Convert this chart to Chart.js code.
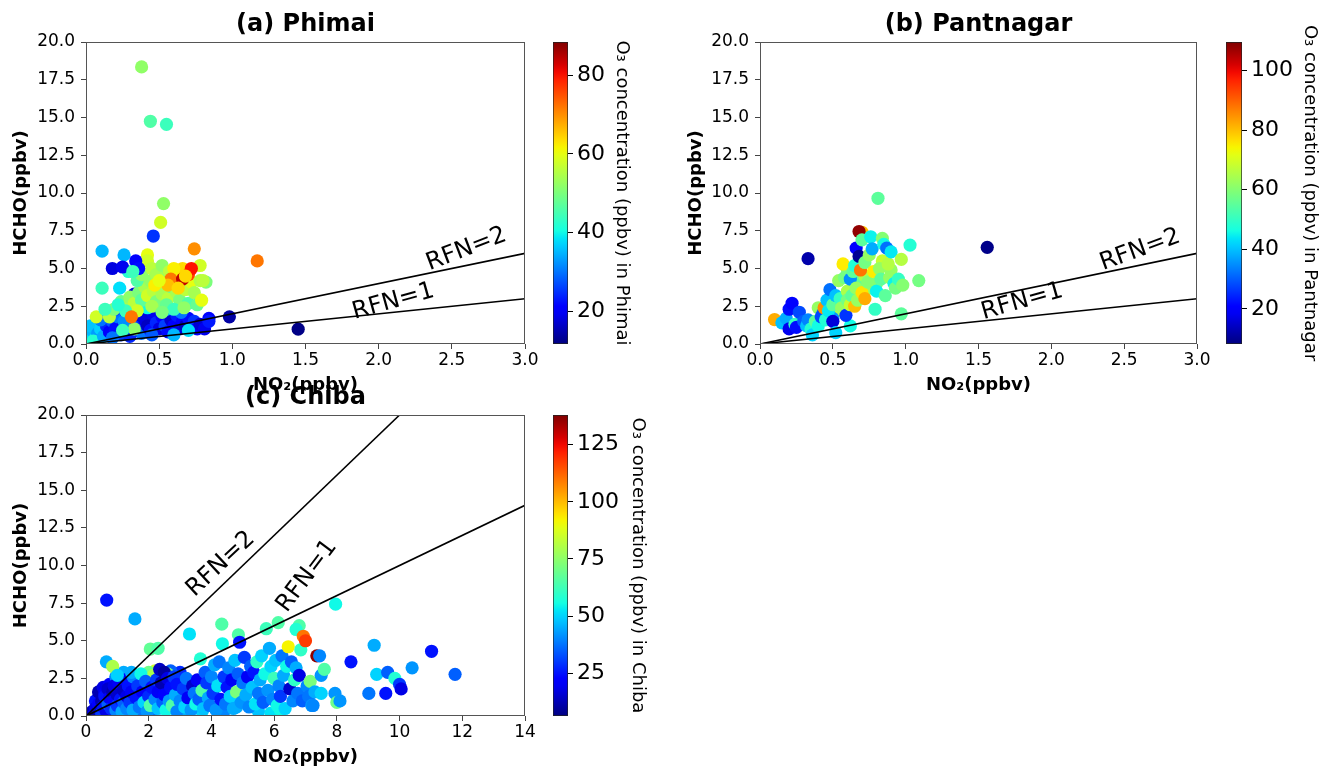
<!DOCTYPE html>
<html>
<head>
<meta charset="utf-8">
<script src="https://cdn.jsdelivr.net/npm/chart.js@4.4.0/dist/chart.umd.min.js"></script>
<style>
  body { margin: 0; background: #fff; width: 1325px; height: 769px; position: relative; overflow: hidden; }
  canvas { position: absolute; }
</style>
</head>
<body>
<canvas id="plotA" width="540" height="400" style="left:0;top:0"></canvas>
<canvas id="barA" width="100" height="400" style="left:540px;top:0"></canvas>
<canvas id="plotB" width="540" height="400" style="left:673px;top:0"></canvas>
<canvas id="barB" width="112" height="400" style="left:1213px;top:0"></canvas>
<canvas id="plotC" width="540" height="396" style="left:0;top:373px"></canvas>
<canvas id="barC" width="112" height="396" style="left:540px;top:373px"></canvas>
<script>
// tick labels
const hchoTicks = [0, 2.5, 5, 7.5, 10, 12.5, 15, 17.5, 20];
const no2TicksSmall = [0, 0.5, 1, 1.5, 2, 2.5, 3];
const no2TicksChiba = [0, 2, 4, 6, 8, 10, 12, 14];
const cbarTicksPhimai = [20, 40, 60, 80];
const cbarTicksPantnagar = [20, 40, 60, 80, 100];
const cbarTicksChiba = [25, 50, 75, 100, 125];

// colour ranges of the O3 bars
const o3RangePhimai = [11.6, 88.5];
const o3RangePantnagar = [8.2, 109.6];
const o3RangeChiba = [6.3, 138];

// RFN lines (HCHO = RFN * NO2)
const rfn1Small = [{x: 0, y: 0}, {x: 3, y: 3}];
const rfn2Small = [{x: 0, y: 0}, {x: 3, y: 6}];
const rfn1Chiba = [{x: 0, y: 0}, {x: 14, y: 14}];
const rfn2Chiba = [{x: 0, y: 0}, {x: 10, y: 20}];

// (a) Phimai
const phimaiNO2 = [
  0.02, 0.04, 0.06, 0.03, 0.08, 0.10, 0.05, 0.12,
  0.14, 0.16, 0.18, 0.20, 0.22, 0.24, 0.26, 0.28, 0.30, 0.32, 0.34, 0.36, 0.38, 0.40, 0.42, 0.44, 0.46, 0.48, 0.50, 0.52,
  0.54, 0.56, 0.58, 0.60, 0.62, 0.64, 0.66, 0.68, 0.70, 0.72, 0.74, 0.76, 0.78, 0.81, 0.84, 0.84, 0.98, 1.45,
  0.20, 0.25, 0.30, 0.35, 0.33, 0.40, 0.26, 0.15, 0.10, 0.45, 0.60, 0.70, 0.55, 0.65, 0.50, 0.42, 0.30, 0.18, 0.33, 0.25,
  0.07, 0.16, 0.19, 0.24, 0.28, 0.30, 0.33, 0.36, 0.38, 0.40, 0.42, 0.44, 0.46, 0.48, 0.50, 0.52, 0.54, 0.56, 0.58, 0.60,
  0.62, 0.64, 0.66, 0.68, 0.70, 0.72, 0.74, 0.76, 0.78, 0.82, 0.79, 0.45, 0.55, 0.60, 0.67, 0.52, 0.35, 0.27, 0.22, 0.13,
  0.11, 0.23, 0.29, 0.35, 0.38, 0.42, 0.42, 0.45, 0.48, 0.52, 0.57, 0.62, 0.66, 0.60, 0.78, 0.80, 0.70, 0.58, 0.66, 0.72,
  0.74, 1.17, 0.31, 0.56, 0.63, 0.47, 0.50, 0.68,
  0.11, 0.26, 0.18, 0.25, 0.34, 0.36, 0.32, 0.46, 0.51, 0.53, 0.38, 0.44, 0.55
];
const phimaiHCHO = [
  0.5, 0.9, 0.3, 1.2, 0.7, 1.0, 0.2, 0.5,
  1.2, 0.8, 1.5, 1.0, 1.8, 0.6, 1.3, 1.9, 0.9, 1.5, 1.1, 2.1, 0.7, 1.6, 1.2, 0.9, 2.0, 1.4, 1.0, 1.8,
  1.2, 0.8, 1.6, 1.2, 1.9, 1.0, 1.5, 1.2, 1.7, 1.1, 1.5, 1.0, 1.3, 1.0, 1.7, 1.5, 1.8, 0.98,
  2.3, 2.6, 2.2, 2.9, 3.3, 3.1, 1.5, 1.9, 1.6, 0.6, 0.6, 0.9, 2.3, 2.1, 2.5, 2.4, 0.5, 0.4, 1.0, 0.9,
  1.8, 1.8, 2.3, 2.8, 2.5, 3.1, 2.7, 3.4, 2.9, 3.8, 3.2, 4.2, 3.5, 2.8, 4.0, 3.3, 4.4, 3.0, 3.8, 4.1,
  3.4, 2.9, 4.0, 3.6, 2.7, 4.1, 3.4, 2.6, 4.2, 4.1, 2.9, 2.5, 2.6, 2.3, 2.4, 2.1, 2.2, 2.2, 2.6, 2.3,
  3.7, 3.7, 4.8, 4.2, 4.6, 5.9, 5.5, 5.0, 4.6, 5.2, 4.8, 4.9, 5.0, 5.0, 5.2, 4.2, 4.6, 4.3, 4.3, 5.0,
  6.3, 5.5, 1.8, 3.9, 3.7, 3.9, 4.2, 4.5,
  6.15, 5.9, 5.0, 5.1, 5.5, 5.0, 4.8, 7.15, 8.05, 9.3, 18.35, 14.75, 14.55
];
const phimaiO3 = [
  38, 35, 40, 36, 33, 37, 42, 34,
  24, 20, 28, 22, 30, 26, 18, 23, 20, 17, 25, 21, 30, 18, 16, 22, 19, 24, 18, 20,
  26, 22, 17, 20, 23, 18, 21, 16, 22, 19, 25, 20, 17, 19, 21, 23, 14, 12,
  25, 20, 23, 19, 17, 22, 32, 34, 30, 28, 35, 38, 35, 30, 38, 40, 24, 30, 52, 44,
  58, 56, 50, 48, 54, 52, 56, 50, 47, 54, 58, 52, 56, 50, 60, 54, 52, 56, 48, 58,
  54, 50, 62, 56, 46, 60, 54, 48, 55, 50, 60, 54, 48, 44, 52, 50, 58, 44, 42, 44,
  44, 38, 42, 46, 52, 60, 58, 56, 54, 52, 56, 62, 64, 62, 58, 56, 76, 72, 84, 80,
  70, 72, 72, 66, 64, 62, 60, 64,
  35, 35, 18, 19, 20, 22, 44, 25, 58, 52, 52, 46, 44
];

// (b) Pantnagar
const pantnagarNO2 = [
  0.40, 0.43, 0.48, 0.53, 0.58, 0.60, 0.64, 0.68, 0.72, 0.75, 0.80, 0.84, 0.90, 0.50, 0.28, 0.62,
  0.10, 0.15, 0.18, 0.20, 0.22, 0.20, 0.24, 0.27, 0.25, 0.30, 0.32, 0.33, 0.35, 0.36, 0.38, 0.40,
  0.42, 0.44, 0.45, 0.46, 0.47, 0.48, 0.50, 0.50, 0.52, 0.52, 0.54, 0.55, 0.56, 0.57, 0.58, 0.59,
  0.60, 0.60, 0.62, 0.62, 0.63, 0.64, 0.65, 0.65, 0.66, 0.66, 0.67, 0.68, 0.70, 0.68, 0.69, 0.70,
  0.70, 0.72, 0.72, 0.74, 0.75, 0.76, 0.77, 0.78, 0.79, 0.80, 0.81, 0.82, 0.83, 0.84, 0.85, 0.86,
  0.87, 0.88, 0.89, 0.90, 0.92, 0.93, 0.95, 0.97, 0.97, 0.98, 1.03, 1.09, 1.56, 0.33
];
const pantnagarHCHO = [
  2.4, 2.0, 2.8, 2.2, 2.8, 4.9, 3.9, 4.1, 4.5, 3.7, 4.0, 5.5, 4.9, 1.7, 1.4, 1.2,
  1.62, 1.4, 1.7, 2.3, 2.7, 1.0, 1.3, 2.1, 1.1, 1.5, 1.2, 1.6, 1.0, 0.6, 1.5, 1.2,
  1.8, 2.4, 1.6, 2.9, 2.2, 3.6, 1.5, 2.6, 0.75, 3.2, 4.2, 3.0, 2.4, 5.3, 4.4, 1.9,
  3.5, 2.9, 4.3, 2.6, 3.2, 4.8, 2.5, 5.2, 3.7, 6.35, 2.9, 5.8, 7.4, 7.45, 4.9, 3.4,
  6.9, 5.4, 3.0, 4.1, 5.9, 7.1, 6.3, 4.8, 2.3, 3.5, 9.65, 5.0, 4.3, 7.0, 6.6, 3.2,
  6.35, 5.3, 4.4, 6.1, 4.0, 3.7, 4.3, 5.6, 2.0, 3.9, 6.55, 4.2, 6.4, 5.65
];
const pantnagarO3 = [
  62, 30, 60, 66, 35, 60, 72, 56, 65, 62, 60, 68, 62, 36, 45, 46,
  82, 40, 38, 22, 20, 18, 50, 28, 22, 30, 40, 34, 48, 42, 55, 46,
  28, 85, 48, 40, 44, 32, 16, 55, 42, 40, 62, 50, 62, 75, 58, 26,
  65, 58, 35, 68, 55, 55, 80, 48, 62, 20, 62, 10, 80, 108, 88, 76,
  55, 58, 82, 60, 62, 45, 38, 75, 50, 45, 55, 62, 55, 60, 46, 55,
  32, 66, 62, 44, 45, 58, 50, 66, 55, 60, 48, 58, 9, 12
];

// (c) Chiba
const chibaNO2 = [
  0.3, 0.4, 0.55, 0.75, 1.0, 1.1, 1.2, 1.4, 1.6, 1.7, 1.9, 2.1, 2.4, 2.6, 2.8, 3.0, 2.7, 1.55, 0.95, 1.2,
  1.75, 3.2, 4.4, 5.5, 5.9, 6.2, 3.7, 4.8, 2.2,
  0.1, 0.2, 0.25, 0.3, 0.35, 0.4, 0.45, 0.5, 0.5, 0.55, 0.6, 0.6, 0.65, 0.7, 0.7, 0.75, 0.8, 0.85, 0.9, 0.9,
  0.95, 1.0, 1.0, 1.05, 1.1, 1.15, 1.2, 1.2, 1.25, 1.3, 1.3, 1.35, 1.4, 1.45, 1.5, 1.5, 0.65, 0.85, 1.0, 1.45,
  2.0, 2.6, 1.9, 2.2, 2.0, 2.15, 1.6, 1.65, 1.7, 1.75, 1.8, 1.85, 1.9, 1.95, 2.0, 2.05,
  2.1, 2.2, 2.25, 2.3, 2.3, 2.35, 2.4, 2.45, 2.5, 2.5, 2.55, 2.6, 2.65, 2.7, 2.75, 2.8, 2.85, 2.9, 2.9, 3.0,
  2.05, 2.3,
  3.1, 3.15, 3.2, 3.25, 3.3, 3.35, 3.4, 3.45, 3.5, 3.55, 3.6, 3.65, 3.7, 3.75, 3.8, 3.85, 3.9, 3.95, 4.0, 4.05,
  4.1, 4.15, 4.2, 4.25, 4.3, 4.33, 4.35, 4.4, 4.45, 4.5, 4.55, 4.6, 4.65, 4.7, 4.75, 4.8, 4.85, 4.86, 4.9, 4.95, 5.0,
  5.05, 5.1, 5.15, 5.2, 5.25, 5.3, 5.35, 5.4, 5.45, 5.5, 5.55, 5.6, 5.65, 5.7, 5.75, 5.8, 5.85, 5.9, 5.95, 6.0,
  6.05, 6.1, 6.13, 6.15, 6.2, 6.25, 6.3, 6.35, 6.4, 6.45, 6.5, 6.55, 6.6, 6.65, 6.7, 6.75, 6.8, 6.7, 6.8, 6.85,
  6.9, 6.93, 7.0, 7.05, 7.1, 7.15, 7.2, 7.3, 7.36, 7.45, 7.5, 7.5, 7.6, 7.24,
  7.96, 7.94, 8.0, 8.1, 8.45, 9.02, 9.19, 9.27, 9.56, 9.62, 9.85, 10.0, 10.05, 10.4, 11.02, 11.77, 0.66, 1.56
];
const chibaHCHO = [
  1.0, 1.6, 1.9, 2.1, 1.9, 2.5, 0.2, 0.2, 0.9, 1.5, 1.0, 0.3, 1.2, 1.7, 0.9, 2.9, 3.0, 1.8, 2.6, 2.9,
  0.2, 0.3, 0.3, 0.3, 0.2, 0.4, 0.3, 0.6, 0.7,
  0.1, 0.3, 0.1, 0.5, 0.2, 0.8, 0.4, 1.0, 0.2, 0.6, 1.5, 1.3, 0.3, 1.8, 0.8, 1.2, 0.5, 1.6, 1.0, 2.0,
  0.4, 1.4, 0.7, 2.2, 1.1, 0.3, 1.7, 0.9, 2.4, 1.3, 0.5, 2.0, 0.9, 1.6, 2.6, 0.4, 3.6, 3.3, 2.7, 2.9,
  2.7, 2.8, 2.6, 3.0, 2.9, 2.7, 1.2, 2.0, 0.6, 2.8, 1.6, 0.9, 2.3, 0.3, 1.3, 0.7,
  1.9, 1.1, 2.4, 0.5, 1.6, 3.1, 2.2, 0.9, 2.9, 1.4, 0.4, 2.5, 1.0, 1.9, 0.7, 2.6, 1.4, 0.3, 2.1, 1.0,
  4.45, 4.5,
  1.8, 0.6, 2.5, 1.2, 5.45, 0.4, 2.0, 1.5, 0.8, 2.4, 1.1, 3.8, 1.7, 0.5, 2.9, 2.2, 1.2, 0.7, 2.6, 1.5,
  3.4, 0.4, 2.0, 3.6, 1.1, 6.1, 4.8, 2.6, 0.8, 1.9, 3.2, 1.3, 2.4, 0.5, 3.7, 1.6, 2.8, 5.4, 4.9, 0.9, 2.2,
  3.9, 1.4, 2.6, 0.6, 3.3, 1.9, 2.9, 0.8, 3.6, 1.5, 2.4, 4.0, 0.9, 2.8, 5.8, 1.7, 4.5, 3.3, 1.1, 2.5,
  3.7, 0.7, 6.2, 2.0, 1.3, 4.0, 2.7, 0.5, 3.3, 4.6, 1.8, 3.6, 1.0, 2.4, 3.2, 1.5, 6.0, 5.75, 2.7, 4.4,
  1.0, 5.3, 5.0, 2.0, 1.3, 2.3, 0.7, 1.6, 4.0, 4.0, 1.5, 2.7, 3.1, 0.7,
  7.43, 1.5, 0.9, 1.0, 3.6, 1.5, 4.7, 2.77, 1.5, 2.9, 2.5, 2.1, 1.8, 3.2, 4.3, 2.77, 7.7, 6.45
];
const chibaO3 = [
  25, 12, 18, 22, 10, 18, 30, 55, 45, 40, 30, 38, 50, 32, 20, 28, 35, 48, 40, 45,
  38, 45, 40, 48, 52, 55, 50, 45, 30,
  15, 12, 20, 18, 10, 22, 15, 12, 30, 25, 20, 25, 18, 15, 35, 20, 28, 12, 22, 18,
  40, 15, 30, 20, 25, 45, 14, 35, 22, 18, 40, 25, 30, 20, 40, 45, 45, 80, 50, 45,
  62, 72, 58, 85, 70, 80, 25, 30, 38, 55, 20, 50, 35, 42, 28, 65,
  25, 40, 30, 48, 20, 14, 12, 35, 10, 22, 55, 18, 42, 24, 65, 30, 45, 40, 25, 40,
  68, 65,
  30, 50, 38, 20, 52, 42, 15, 38, 55, 20, 35, 58, 65, 48, 35, 30, 45, 38, 40, 30,
  45, 42, 52, 38, 25, 65, 55, 30, 38, 25, 40, 50, 20, 45, 48, 72, 35, 65, 25, 42, 38,
  30, 45, 20, 40, 35, 48, 25, 52, 60, 38, 45, 50, 35, 55, 62, 42, 45, 50, 40, 62,
  48, 55, 65, 40, 30, 38, 45, 50, 55, 92, 15, 35, 40, 60, 45, 38, 65, 58, 18, 60,
  35, 110, 118, 40, 38, 72, 42, 45, 136, 40, 50, 42, 65, 40,
  55, 42, 70, 42, 25, 38, 45, 50, 25, 35, 58, 30, 18, 42, 25, 35, 25, 45
];

Chart.defaults.font.family = "'DejaVu Sans', sans-serif";
Chart.defaults.color = '#000';
Chart.defaults.animation = false;

// matplotlib "jet" colormap
const jetR = [[0, 0], [0.35, 0], [0.66, 1], [0.89, 1], [1, 0.5]];
const jetG = [[0, 0], [0.125, 0], [0.375, 1], [0.64, 1], [0.91, 0], [1, 0]];
const jetB = [[0, 0.5], [0.11, 1], [0.34, 1], [0.65, 0], [1, 0]];
function segment(seg, t) {
  for (let i = 1; i < seg.length; i++) {
    if (t <= seg[i][0]) {
      const [x0, y0] = seg[i - 1], [x1, y1] = seg[i];
      return y0 + (y1 - y0) * (t - x0) / (x1 - x0);
    }
  }
  return seg[seg.length - 1][1];
}
function jet(t) {
  t = Math.max(0, Math.min(1, t));
  const c = v => Math.round(segment(v, t) * 255);
  return `rgb(${c(jetR)},${c(jetG)},${c(jetB)})`;
}

// box round the plot area (all four spines)
const framePlugin = {
  id: 'frame',
  afterDraw(chart) {
    const {ctx, chartArea: a} = chart;
    ctx.save();
    ctx.strokeStyle = '#555';
    ctx.lineWidth = 1;
    ctx.strokeRect(a.left + 0.5, a.top + 0.5, a.right - a.left - 1, a.bottom - a.top - 1);
    ctx.restore();
  }
};

// rotated "RFN=n" labels
const rfnLabelPlugin = {
  id: 'rfnLabels',
  afterDatasetsDraw(chart, args, opts) {
    const {ctx, scales: {x, y}} = chart;
    (opts.items || []).forEach(it => {
      ctx.save();
      ctx.translate(x.getPixelForValue(it.x), y.getPixelForValue(it.y));
      ctx.rotate(-it.angle * Math.PI / 180);
      ctx.font = "24px 'DejaVu Sans'";
      ctx.fillStyle = '#000';
      ctx.textAlign = 'center';
      ctx.textBaseline = 'middle';
      ctx.fillText(it.text, 0, 0);
      ctx.restore();
    });
  }
};

function makeScatter(id, o) {
  const points = o.no2.map((v, i) => ({x: v, y: o.hcho[i]}));
  const colors = o.o3.map(v => jet((v - o.range[0]) / (o.range[1] - o.range[0])));
  const lineStyle = {type: 'line', borderColor: '#000', borderWidth: 1.6, pointRadius: 0, fill: false};
  new Chart(document.getElementById(id), {
    type: 'scatter',
    data: {
      datasets: [
        Object.assign({data: o.rfn2}, lineStyle),
        Object.assign({data: o.rfn1}, lineStyle),
        {data: points, pointRadius: 6.6, pointBorderWidth: 0, backgroundColor: colors, pointBackgroundColor: colors}
      ]
    },
    options: {
      responsive: false,
      devicePixelRatio: 1,
      layout: {padding: {left: 0, right: o.padRight, top: 0, bottom: 0}},
      plugins: {
        legend: {display: false},
        tooltip: {enabled: false},
        title: {
          display: true, text: o.title, fullSize: false,
          font: {size: 24, weight: 'bold'}, color: '#000',
          padding: {top: 10.5, bottom: 2.7}
        },
        rfnLabels: {items: o.labels}
      },
      scales: {
        x: {
          type: 'linear', min: o.xTicks[0], max: o.xTicks[o.xTicks.length - 1],
          afterBuildTicks: s => { s.ticks = o.xTicks.map(v => ({value: v})); },
          afterFit: s => { s.height = o.xHeight; },
          ticks: {callback: o.xFmt, font: {size: 17}, color: '#000', padding: 1, maxRotation: 0, autoSkip: false},
          grid: {drawOnChartArea: false, tickLength: 5, tickColor: '#444'},
          border: {display: false},
          title: {display: true, text: 'NO₂(ppbv)', font: {size: 18, weight: 'bold'}, color: '#000', padding: {top: 0, bottom: o.xTitlePad}}
        },
        y: {
          min: 0, max: 20,
          afterBuildTicks: s => { s.ticks = hchoTicks.map(v => ({value: v})); },
          afterFit: s => { s.width = o.yWidth; },
          ticks: {callback: v => v.toFixed(1), font: {size: 17}, color: '#000', padding: 6, autoSkip: false},
          grid: {drawOnChartArea: false, tickLength: 5, tickColor: '#444'},
          border: {display: false},
          title: {display: true, text: 'HCHO(ppbv)', font: {size: 18, weight: 'bold'}, color: '#000', padding: {top: o.yTitlePad, bottom: 0}}
        }
      }
    },
    plugins: [framePlugin, rfnLabelPlugin]
  });
}

function makeColorbar(id, o) {
  new Chart(document.getElementById(id), {
    type: 'bar',
    data: {
      labels: [''],
      datasets: [{
        data: [o.range],
        barPercentage: 1, categoryPercentage: 1,
        borderWidth: 1, borderColor: '#222', borderSkipped: false,
        backgroundColor: ctx => {
          const a = ctx.chart.chartArea;
          if (!a) return null;
          const g = ctx.chart.ctx.createLinearGradient(0, a.bottom, 0, a.top);
          for (let i = 0; i <= 40; i++) g.addColorStop(i / 40, jet(i / 40));
          return g;
        }
      }]
    },
    options: {
      responsive: false,
      devicePixelRatio: 1,
      layout: {padding: {left: 13, right: 0, top: 42, bottom: o.bottom}},
      plugins: {legend: {display: false}, tooltip: {enabled: false}},
      scales: {
        x: {display: false},
        y: {
          position: 'right', min: o.range[0], max: o.range[1],
          afterBuildTicks: s => { s.ticks = o.ticks.map(v => ({value: v})); },
          afterFit: s => { s.width = o.width; },
          ticks: {font: {size: 22}, color: '#000', padding: 4},
          grid: {drawOnChartArea: false, tickLength: 5, tickColor: '#000'},
          border: {display: false},
          title: {display: true, text: o.label, font: {size: 18}, color: '#000', padding: {top: o.titlePad, bottom: 0}}
        }
      }
    }
  });
}

makeScatter('plotA', {
  title: '(a) Phimai', no2: phimaiNO2, hcho: phimaiHCHO, o3: phimaiO3, range: o3RangePhimai,
  rfn1: rfn1Small, rfn2: rfn2Small, xTicks: no2TicksSmall, xFmt: v => v.toFixed(1),
  padRight: 15, yWidth: 86, xHeight: 56, xTitlePad: 4, yTitlePad: 11,
  labels: [{text: 'RFN=2', x: 2.6, y: 6.27, angle: 21}, {text: 'RFN=1', x: 2.1, y: 2.8, angle: 15.5}]
});
makeColorbar('barA', {range: o3RangePhimai, ticks: cbarTicksPhimai, width: 72, bottom: 56, titlePad: 8,
  label: 'O₃ concentration (ppbv) in Phimai'});

makeScatter('plotB', {
  title: '(b) Pantnagar', no2: pantnagarNO2, hcho: pantnagarHCHO, o3: pantnagarO3, range: o3RangePantnagar,
  rfn1: rfn1Small, rfn2: rfn2Small, xTicks: no2TicksSmall, xFmt: v => v.toFixed(1),
  padRight: 16, yWidth: 87, xHeight: 56, xTitlePad: 4, yTitlePad: 13,
  labels: [{text: 'RFN=2', x: 2.61, y: 6.23, angle: 20}, {text: 'RFN=1', x: 1.8, y: 2.8, angle: 15.8}]
});
makeColorbar('barB', {range: o3RangePantnagar, ticks: cbarTicksPantnagar, width: 83, bottom: 56, titlePad: 5,
  label: 'O₃ concentration (ppbv) in Pantnagar'});

makeScatter('plotC', {
  title: '(c) Chiba', no2: chibaNO2, hcho: chibaHCHO, o3: chibaO3, range: o3RangeChiba,
  rfn1: rfn1Chiba, rfn2: rfn2Chiba, xTicks: no2TicksChiba, xFmt: v => String(v),
  padRight: 15, yWidth: 86, xHeight: 53, xTitlePad: 1.2, yTitlePad: 11,
  labels: [{text: 'RFN=2', x: 4.3, y: 10.1, angle: 43}, {text: 'RFN=1', x: 7.05, y: 9.3, angle: 53}]
});
makeColorbar('barC', {range: o3RangeChiba, ticks: cbarTicksChiba, width: 84, bottom: 53, titlePad: 4,
  label: 'O₃ concentration (ppbv) in Chiba'});
</script>
</body>
</html>
